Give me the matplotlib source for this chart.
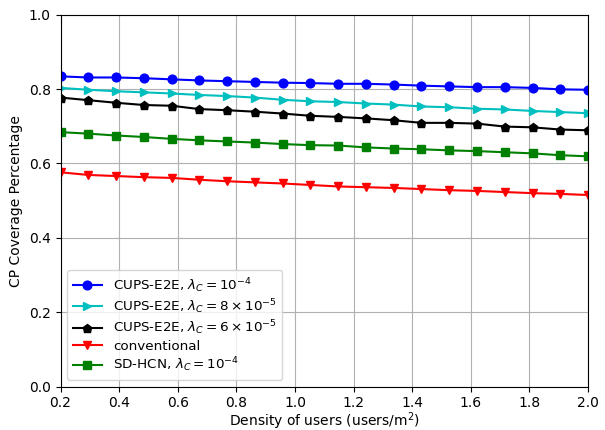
import numpy as np
import matplotlib
matplotlib.use("Agg")
import matplotlib.pyplot as plt

# Densidad de usuarios (usuarios/m^2)
densidad = np.linspace(0.2, 2.0, 20)

# Cobertura CP para cada esquema
cups_1e4 = [0.834, 0.831, 0.831, 0.829, 0.826, 0.823, 0.821, 0.819, 0.817, 0.816,
            0.814, 0.814, 0.812, 0.809, 0.807, 0.805, 0.805, 0.803, 0.799, 0.798]
cups_8e5 = [0.803, 0.798, 0.794, 0.791, 0.788, 0.784, 0.781, 0.777, 0.771, 0.767,
            0.765, 0.761, 0.758, 0.753, 0.751, 0.747, 0.745, 0.741, 0.738, 0.735]
cups_6e5 = [0.777, 0.770, 0.763, 0.757, 0.755, 0.746, 0.743, 0.739, 0.734, 0.728,
            0.725, 0.721, 0.716, 0.709, 0.709, 0.707, 0.699, 0.697, 0.691, 0.689]
convencional = [0.576, 0.569, 0.566, 0.563, 0.561, 0.556, 0.552, 0.549, 0.546, 0.542,
                0.538, 0.536, 0.534, 0.531, 0.528, 0.526, 0.523, 0.520, 0.518, 0.515]
sdhcn = [0.684, 0.680, 0.675, 0.671, 0.666, 0.662, 0.659, 0.656, 0.652, 0.649,
         0.648, 0.643, 0.640, 0.638, 0.635, 0.633, 0.630, 0.627, 0.622, 0.619]

plt.figure(figsize=(6.05, 4.3), dpi=100)
plt.subplots_adjust(left=0.100, right=0.972, top=0.966, bottom=0.101)
ms = 6.3
plt.plot(densidad, cups_1e4, 'b-o', markersize=ms, label=r'CUPS-E2E, $\lambda_C=10^{-4}$')
plt.plot(densidad, cups_8e5, 'c->', markersize=ms, label=r'CUPS-E2E, $\lambda_C=8\times10^{-5}$')
plt.plot(densidad, cups_6e5, 'k-p', markersize=ms, label=r'CUPS-E2E, $\lambda_C=6\times10^{-5}$')
plt.plot(densidad, convencional, 'r-v', markersize=ms, label='conventional')
plt.plot(densidad, sdhcn, 'g-s', markersize=ms, label=r'SD-HCN, $\lambda_C=10^{-4}$')
plt.xlim(0.2, 2.0)
plt.ylim(0, 1)
plt.xlabel("Density of users (users/m$^2$)", labelpad=0)
plt.ylabel("CP Coverage Percentage")
plt.grid(True)
plt.legend(loc='lower left', fontsize=9.7, labelspacing=0.2, handlelength=2.2)
plt.savefig("out.png", dpi=100)
plt.close()
